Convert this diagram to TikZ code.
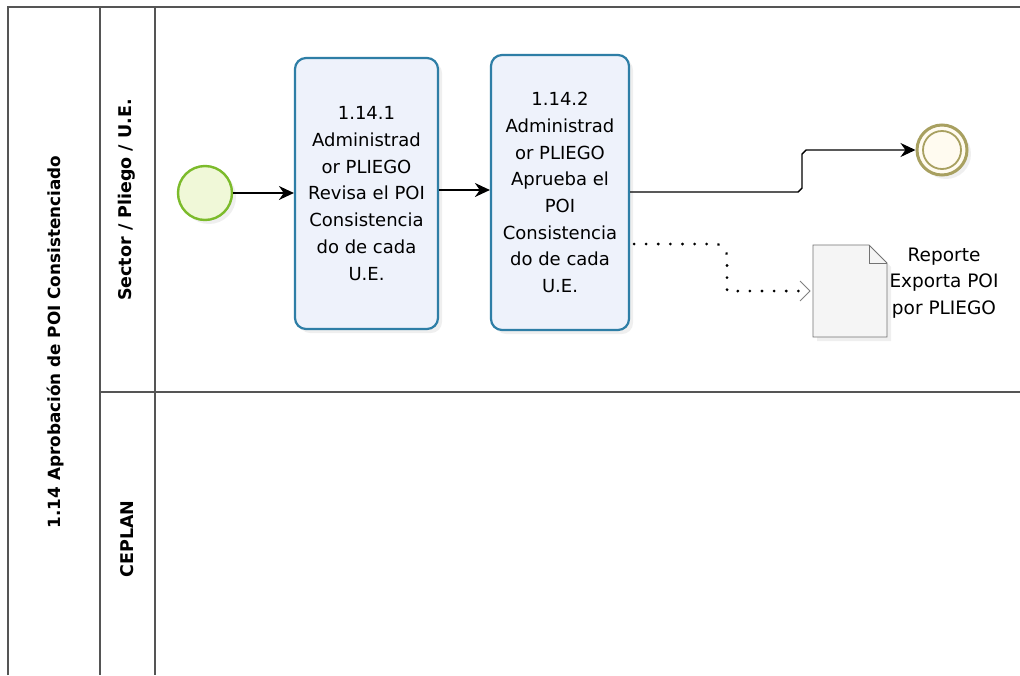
\documentclass[tikz,border=0pt]{standalone}
\usepackage{fontspec}
\setmainfont{DejaVu Sans}
\usetikzlibrary{arrows.meta,shadows,calc}
\definecolor{taskline}{HTML}{2E7EA6}
\definecolor{taskfill}{HTML}{EEF2FB}
\definecolor{startline}{HTML}{7CBB2B}
\definecolor{startfill}{HTML}{F0F8D8}
\definecolor{endline}{HTML}{A8A060}
\definecolor{endfill}{HTML}{FFFBF0}
\definecolor{poolline}{HTML}{555555}
\tikzset{
  x=1pt,y=-1pt,
  pool/.style={draw=poolline,line width=1.4pt},
  task/.style={draw=taskline,line width=2.2pt,fill=taskfill,rounded corners=11pt,
    drop shadow={shadow xshift=4pt,shadow yshift=-4pt,opacity=0.12},
    align=center,font=\fontsize{18}{26.7}\selectfont,inner sep=0pt},
  flow/.style={draw=black,line width=1.4pt,-{Stealth[length=15pt,width=14pt]}},
  assoc/.style={draw=black,line width=3pt,dash pattern=on 0.1pt off 12pt,line cap=round},
  lanetext/.style={rotate=90,font=\fontsize{17.5}{20}\selectfont\bfseries},
}
\begin{document}
\begin{tikzpicture}
\useasboundingbox (0,0) rectangle (1020,675);
\fill[white] (0,0) rectangle (1020,675);
% pool
\draw[pool] (8,675) -- (8,7) -- (1020,7);
\draw[pool] (100,7) -- (100,675);
\draw[pool] (155,7) -- (155,675);
\draw[pool] (100,392) -- (1020,392);
\node[lanetext,font=\fontsize{16.8}{20}\selectfont\bfseries] (pooltitle) at (56,342) {1.14 Aprobación de POI Consistenciado};
\node[lanetext] (lane1) at (127,200) {Sector / Pliego / U.E.};
\node[lanetext] (lane2) at (127,539) {CEPLAN};
% start
\node[circle,draw=startline,fill=startfill,line width=2.4pt,minimum size=54pt,inner sep=0pt,
  drop shadow={shadow xshift=4pt,shadow yshift=-4pt,opacity=0.12}] (start) at (205,193) {};
% tasks
\node[task,minimum width=143pt,minimum height=271pt] (t1) at (366.5,193.5)
  {1.14.1\\Administrad\\or PLIEGO\\Revisa el POI\\Consistencia\\do de cada\\U.E.};
\node[task,minimum width=138pt,minimum height=275pt] (t2) at (560,192.5)
  {1.14.2\\Administrad\\or PLIEGO\\Aprueba el\\POI\\Consistencia\\do de cada\\U.E.};
% end
\node[circle,draw=endline,fill=endfill,line width=3pt,minimum size=50pt,inner sep=0pt,
  drop shadow={shadow xshift=4pt,shadow yshift=-4pt,opacity=0.12}] (end) at (942,150) {};
\node[circle,draw=endline,line width=1.8pt,minimum size=38pt,inner sep=0pt] (endin) at (942,150) {};
% document
\draw[draw=gray!90!black,line width=0.8pt,fill=gray!8,
  drop shadow={shadow xshift=4pt,shadow yshift=-4pt,opacity=0.12}]
  (813,245) -- (869,245) -- (887,263) -- (887,337) -- (813,337) -- cycle;
\draw[draw=gray!90!black,line width=0.8pt] (869,245) -- (869,263) -- (887,263);
\node[minimum width=74pt,minimum height=92pt,inner sep=0pt] (doc) at (850,291) {};
\node[align=center,font=\fontsize{18.5}{26.5}\selectfont] (doclbl) at (944,283) {Reporte\\Exporta POI\\por PLIEGO};
% flows
\draw[flow] (start.east) -- (t1.west |- start.east);
\draw[flow] (t1.east |- 0,190) -- (t2.west |- 0,190);
\draw[flow] (t2.east |- 0,192) -- (798,192) -- (802,188) -- (802,154) -- (806,150) -- (end.west);
% association
\draw[assoc] (634,244) -- (718,244) -- (727,254) -- (727,291) -- (800,291);
\draw[gray,line width=1pt] (800,281) -- (810,291) -- (800,301);
\end{tikzpicture}
\end{document}
